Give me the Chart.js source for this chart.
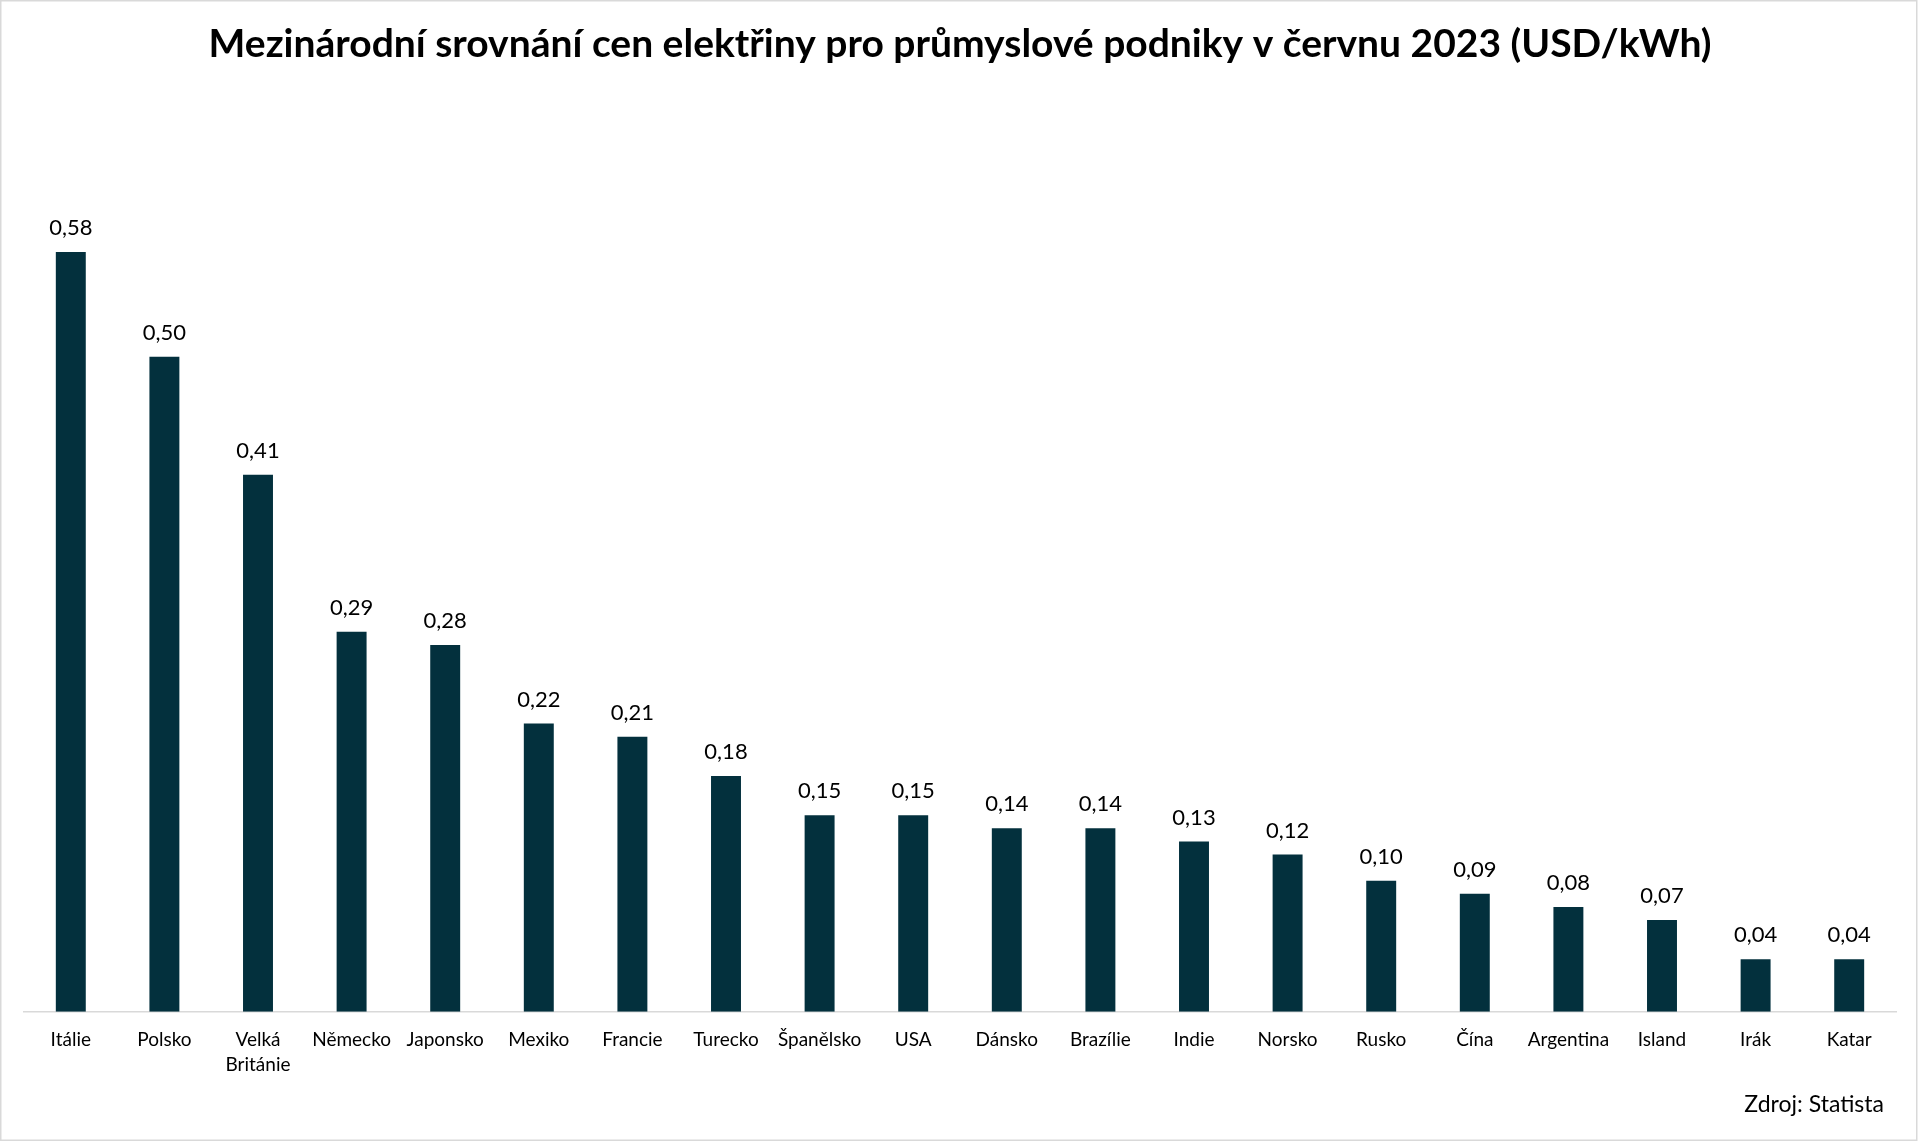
<!DOCTYPE html>
<html>
<head>
<meta charset="utf-8">
<script src="https://cdn.jsdelivr.net/npm/chart.js@4.4.0/dist/chart.umd.min.js"></script>
<style>
  html, body { margin: 0; padding: 0; background: #fff; }
  canvas { display: block; }
</style>
</head>
<body>
<canvas id="priceChart" width="1919" height="1142"></canvas>
<script>
var countries = ['Itálie', 'Polsko', ['Velká', 'Británie'], 'Německo', 'Japonsko', 'Mexiko', 'Francie', 'Turecko', 'Španělsko', 'USA',
  'Dánsko', 'Brazílie', 'Indie', 'Norsko', 'Rusko', 'Čína', 'Argentina', 'Island', 'Irák', 'Katar'];
var prices = [0.58, 0.50, 0.41, 0.29, 0.28, 0.22, 0.21, 0.18, 0.15, 0.15,
  0.14, 0.14, 0.13, 0.12, 0.10, 0.09, 0.08, 0.07, 0.04, 0.04];

var titleText = 'Mezinárodní srovnání cen elektřiny pro průmyslové podniky v červnu 2023 (USD/kWh)';
var sourceText = 'Zdroj: Statista';
var font = 'Lato';

// white background + thin grey frame, like the excel chart box
var framePlugin = {
  id: 'frame',
  beforeDraw: function(chart) {
    var c = chart.ctx;
    c.save();
    c.fillStyle = '#fff';
    c.fillRect(0, 0, chart.width, chart.height);
    c.strokeStyle = '#d9d9d9';
    c.lineWidth = 1.5;
    c.strokeRect(0.75, 0.75, chart.width - 3, chart.height - 2.5);
    c.restore();
  },
  afterDraw: function(chart) {
    var c = chart.ctx;
    c.save();
    c.fillStyle = '#000';
    c.font = '23px ' + font;
    c.textAlign = 'right';
    c.textBaseline = 'middle';
    c.fillText(sourceText, 1884, 1105);
    c.restore();
  }
};

// value labels over the bars
var valueLabels = {
  id: 'valueLabels',
  afterDatasetsDraw: function(chart) {
    var c = chart.ctx;
    var meta = chart.getDatasetMeta(0);
    c.save();
    c.fillStyle = '#000';
    c.font = '22px ' + font;
    c.textAlign = 'center';
    c.textBaseline = 'middle';
    meta.data.forEach(function(bar, i) {
      c.fillText(prices[i].toFixed(2).replace('.', ','), bar.x, bar.y - 24);
    });
    c.restore();
  }
};

var ctx = document.getElementById('priceChart').getContext('2d');
var chart = new Chart(ctx, {
  type: 'bar',
  data: {
    labels: countries,
    datasets: [{
      data: prices,
      backgroundColor: '#03303d',
      barPercentage: 0.32,
      categoryPercentage: 1
    }]
  },
  options: {
    responsive: false,
    animation: false,
    devicePixelRatio: 1,
    layout: {
      padding: { left: 24, right: 23, top: 0, bottom: 49 }
    },
    plugins: {
      legend: { display: false },
      tooltip: { enabled: false },
      title: {
        display: true,
        text: titleText,
        color: '#000',
        font: { family: font, size: 39, weight: 'bold', lineHeight: 1.2 },
        padding: { top: 21, bottom: 27 }
      }
    },
    scales: {
      x: {
        grid: { display: false, drawTicks: false },
        border: { display: true, color: '#d9d9d9', width: 1.5 },
        ticks: {
          color: '#000',
          font: { family: font, size: 19, lineHeight: 1.35 },
          padding: 15,
          maxRotation: 0,
          autoSkip: false
        }
      },
      y: {
        display: false,
        min: 0,
        max: 0.7
      }
    }
  },
  plugins: [framePlugin, valueLabels]
});
</script>
</body>
</html>
